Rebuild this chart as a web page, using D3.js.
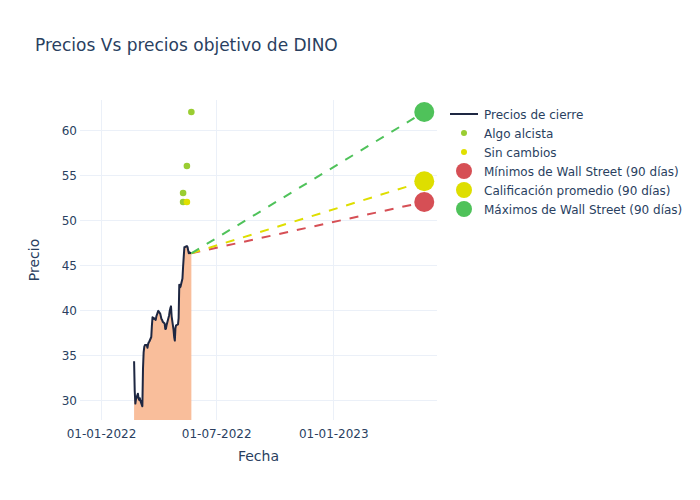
<!DOCTYPE html>
<html>
<head>
<meta charset="utf-8">
<script src="https://cdn.jsdelivr.net/npm/d3@7"></script>
<style>
  body { margin: 0; background: #fff; }
  text { font-family: "DejaVu Sans", verdana, arial, sans-serif; fill: #2a3f5f; }
</style>
</head>
<body>
<svg id="chart" width="700" height="500"></svg>
<script>
// ---------- data ----------
const closeDates = [
  "2022-02-22","2022-02-23","2022-02-24","2022-02-25","2022-02-28",
  "2022-03-01","2022-03-02","2022-03-03","2022-03-04","2022-03-07",
  "2022-03-08","2022-03-09","2022-03-10","2022-03-11","2022-03-14",
  "2022-03-15","2022-03-16","2022-03-17","2022-03-18","2022-03-21",
  "2022-03-22","2022-03-23","2022-03-24","2022-03-25","2022-03-28",
  "2022-03-29","2022-03-30","2022-03-31","2022-04-01","2022-04-04",
  "2022-04-05","2022-04-06","2022-04-07","2022-04-08","2022-04-11",
  "2022-04-12","2022-04-13","2022-04-14","2022-04-18","2022-04-19",
  "2022-04-20","2022-04-21","2022-04-22","2022-04-25","2022-04-26",
  "2022-04-27","2022-04-28","2022-04-29","2022-05-02","2022-05-03",
  "2022-05-04","2022-05-05","2022-05-06","2022-05-09","2022-05-10",
  "2022-05-11","2022-05-12","2022-05-13","2022-05-16","2022-05-17",
  "2022-05-18","2022-05-19","2022-05-20","2022-05-23"
];
const closePrices = [
  34.3, 31.0, 29.6, 30.1, 30.7,
  30.2, 30.0, 30.2, 29.9, 29.3,
  33.5, 35.3, 35.9, 36.1, 36.1,
  35.8, 36.2, 36.4, 36.5, 37.0,
  38.3, 39.2, 39.0, 39.1, 38.9,
  39.3, 39.5, 39.7, 39.9, 39.6,
  39.3, 39.0, 38.9, 38.7, 38.5,
  37.9, 37.9, 38.3, 39.4, 39.9,
  40.2, 40.4, 39.3, 37.8, 37.0,
  36.6, 38.0, 38.3, 38.4, 39.1,
  42.8, 42.5, 42.6, 43.5, 44.8,
  45.9, 46.97, 47.0, 47.1, 47.0,
  46.6, 46.3, 46.4, 46.3
];

const alcistaDates = ["2022-05-10", "2022-05-10", "2022-05-16", "2022-05-23"];
const alcistaValues = [53, 52, 56, 62];

const sinCambiosDates = ["2022-05-16"];
const sinCambiosValues = [52];

const targetDate = "2023-05-24";
const targetNames = ["Mínimos de Wall Street (90 días)", "Calificación promedio (90 días)", "Máximos de Wall Street (90 días)"];
const targetValues = [52, 54.3, 62];
const targetColors = ["#d64f55", "#dede00", "#4fc25a"];

const xTickDates = ["2022-01-01", "2022-07-01", "2023-01-01"];
const xTickLabels = ["01-01-2022", "01-07-2022", "01-01-2023"];
const yTicks = [30, 35, 40, 45, 50, 55, 60];

const legendLabels = ["Precios de cierre", "Algo alcista", "Sin cambios"].concat(targetNames);

// ---------- setup ----------
const parse = d3.utcParse("%Y-%m-%d");
const svg = d3.select("#chart");
const L = 80, R = 437, T = 100, B = 420;

const x = d3.scaleUtc()
  .domain([parse("2021-11-29"), parse("2023-06-13")])
  .range([L, R]);
const y = d3.scaleLinear()
  .domain([27.778, 63.333])
  .range([B, T]);

const gridColor = "#ebf0f8";

// grid
const gGrid = svg.append("g");
gGrid.selectAll("line.y").data(yTicks).join("line")
  .attr("x1", L).attr("x2", R)
  .attr("y1", d => Math.round(y(d)) + 0.5).attr("y2", d => Math.round(y(d)) + 0.5)
  .attr("stroke", gridColor).attr("stroke-width", 1);
gGrid.selectAll("line.x").data(xTickDates).join("line")
  .attr("x1", d => Math.round(x(parse(d))) + 0.5).attr("x2", d => Math.round(x(parse(d))) + 0.5)
  .attr("y1", T).attr("y2", B)
  .attr("stroke", gridColor).attr("stroke-width", 1);

// axes
const xAxis = d3.axisBottom(x)
  .tickValues(xTickDates.map(parse))
  .tickFormat((d, i) => xTickLabels[i])
  .tickSize(0).tickPadding(9);
const gx = svg.append("g").attr("transform", `translate(0,${B})`).call(xAxis);
gx.select(".domain").remove();
gx.selectAll("text").style("font-size", "12px").attr("fill", "#2a3f5f");

const yAxis = d3.axisLeft(y).tickValues(yTicks).tickSize(0).tickPadding(3);
const gy = svg.append("g").attr("transform", `translate(${L},0.5)`).call(yAxis);
gy.select(".domain").remove();
gy.selectAll("text").style("font-size", "12px").attr("fill", "#2a3f5f");

// clip
svg.append("clipPath").attr("id", "clip")
  .append("rect").attr("x", L).attr("y", T).attr("width", R - L).attr("height", B - T);

const plot = svg.append("g").attr("clip-path", "url(#clip)");

const closeData = closeDates.map((d, i) => ({ date: parse(d), v: closePrices[i] }));

// fill to zero
plot.append("path")
  .datum(closeData)
  .attr("d", d3.area().x(d => x(d.date)).y0(y(0)).y1(d => y(d.v)))
  .attr("fill", "#f9be9b")
  .attr("stroke", "none");

// close line
plot.append("path")
  .datum(closeData)
  .attr("d", d3.line().x(d => x(d.date)).y(d => y(d.v)))
  .attr("fill", "none")
  .attr("stroke", "#1e2742")
  .attr("stroke-width", 2)
  .attr("stroke-linejoin", "round");

const last = closeData[closeData.length - 1];

// dashed target lines
targetValues.forEach((v, i) => {
  plot.append("path")
    .datum([last, { date: parse(targetDate), v: v }])
    .attr("d", d3.line().x(d => x(d.date)).y(d => y(d.v)))
    .attr("fill", "none")
    .attr("stroke", targetColors[i])
    .attr("stroke-width", 2)
    .attr("stroke-dasharray", "9,9");
});

// scatter: Algo alcista
plot.selectAll("circle.alc").data(alcistaDates.map((d, i) => ({ date: parse(d), v: alcistaValues[i] })))
  .join("circle")
  .attr("cx", d => x(d.date)).attr("cy", d => y(d.v)).attr("r", 3.3)
  .attr("fill", "#9acd32");

// scatter: Sin cambios
plot.selectAll("circle.sc").data(sinCambiosDates.map((d, i) => ({ date: parse(d), v: sinCambiosValues[i] })))
  .join("circle")
  .attr("cx", d => x(d.date)).attr("cy", d => y(d.v)).attr("r", 3.3)
  .attr("fill", "#e0e000");

// target markers
targetValues.forEach((v, i) => {
  plot.append("circle")
    .attr("cx", x(parse(targetDate))).attr("cy", y(v)).attr("r", 10)
    .attr("fill", targetColors[i]);
});

// title
svg.append("text").attr("x", 35).attr("y", 51)
  .style("font-size", "17px").text("Precios Vs precios objetivo de DINO");

// axis titles
svg.append("text").attr("x", (L + R) / 2).attr("y", 461)
  .attr("text-anchor", "middle").style("font-size", "14px").text("Fecha");
svg.append("text").attr("transform", `translate(39,${(T + B) / 2}) rotate(-90)`)
  .attr("text-anchor", "middle").style("font-size", "14px").text("Precio");

// legend
const lg = svg.append("g");
const rowY = i => 114 + i * 19;
lg.append("line").attr("x1", 450).attr("x2", 478).attr("y1", rowY(0)).attr("y2", rowY(0))
  .attr("stroke", "#1e2742").attr("stroke-width", 2);
lg.append("circle").attr("cx", 464).attr("cy", rowY(1)).attr("r", 3).attr("fill", "#9acd32");
lg.append("circle").attr("cx", 464).attr("cy", rowY(2)).attr("r", 3).attr("fill", "#e0e000");
targetColors.forEach((c, i) => {
  lg.append("circle").attr("cx", 464).attr("cy", rowY(3 + i)).attr("r", 8).attr("fill", c);
});
lg.selectAll("text.lab").data(legendLabels).join("text")
  .attr("x", 484).attr("y", (d, i) => rowY(i) + 4.5)
  .style("font-size", "12px").text(d => d);
</script>
</body>
</html>
